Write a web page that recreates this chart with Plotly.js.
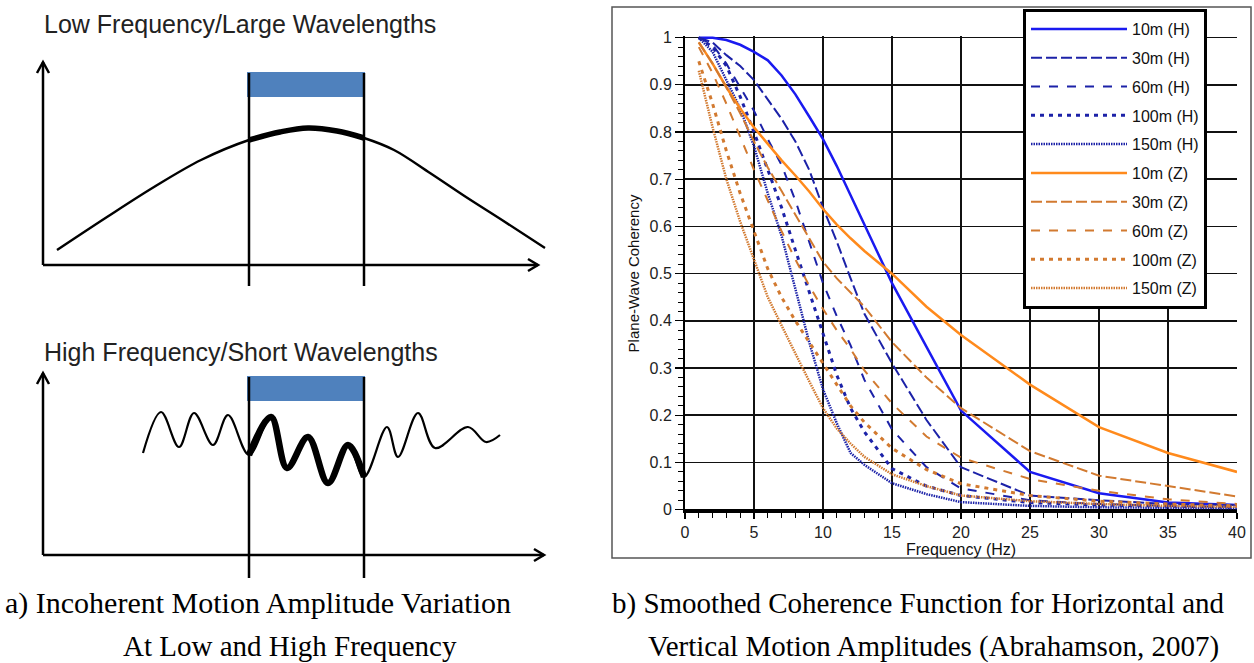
<!DOCTYPE html>
<html>
<head>
<meta charset="utf-8">
<script src="https://cdn.plot.ly/plotly-3.0.1.min.js"></script>
<style>html,body{margin:0;padding:0;background:#fff;}#chart{width:1254px;height:663px;}</style>
</head>
<body>
<div id="chart"></div>
<script>
// ---------- Data: coherence chart (b) ----------
const freq = [1,2,3,4,5,6,7,8,9,10,11,12,13,15,17.5,20,25,30,35,40];
const seriesNames = ["10m (H)","30m (H)","60m (H)","100m (H)","150m (H)","10m (Z)","30m (Z)","60m (Z)","100m (Z)","150m (Z)"];
const h10  = [1.0,1.0,0.995,0.985,0.97,0.952,0.92,0.88,0.833,0.785,0.728,0.666,0.604,0.48,0.345,0.21,0.08,0.035,0.015,0.01];
const h30  = [1.0,0.99,0.963,0.94,0.91,0.868,0.828,0.78,0.72,0.64,0.568,0.49,0.415,0.31,0.19,0.09,0.03,0.02,0.012,0.01];
const h60  = [1.0,0.985,0.945,0.895,0.845,0.785,0.73,0.655,0.565,0.48,0.41,0.348,0.275,0.17,0.09,0.045,0.02,0.012,0.008,0.006];
const h100 = [1.0,0.98,0.94,0.875,0.80,0.72,0.64,0.55,0.46,0.375,0.285,0.215,0.165,0.087,0.05,0.03,0.015,0.01,0.008,0.005];
const h150 = [1.0,0.97,0.91,0.85,0.77,0.67,0.58,0.47,0.355,0.255,0.183,0.12,0.095,0.056,0.033,0.016,0.008,0.005,0.004,0.003];
const z10  = [0.99,0.945,0.895,0.85,0.81,0.775,0.74,0.708,0.674,0.637,0.604,0.575,0.548,0.50,0.43,0.37,0.265,0.175,0.12,0.08];
const z30  = [0.99,0.945,0.895,0.84,0.78,0.725,0.675,0.625,0.575,0.525,0.49,0.46,0.43,0.355,0.28,0.215,0.124,0.072,0.05,0.028];
const z60  = [0.98,0.925,0.86,0.79,0.72,0.655,0.59,0.53,0.475,0.425,0.38,0.34,0.295,0.225,0.155,0.11,0.065,0.04,0.022,0.012];
const z100 = [0.95,0.86,0.76,0.67,0.59,0.51,0.45,0.40,0.355,0.31,0.265,0.22,0.185,0.13,0.085,0.055,0.03,0.018,0.012,0.008];
const z150 = [0.93,0.81,0.70,0.61,0.53,0.45,0.39,0.33,0.272,0.215,0.172,0.14,0.112,0.075,0.05,0.03,0.018,0.012,0.008,0.006];
const xTickVals = [0,5,10,15,20,25,30,35,40];
const yTickVals = [0,0.1,0.2,0.3,0.4,0.5,0.6,0.7,0.8,0.9,1];

// ---------- Data: schematic (a), in picture pixel units ----------
const lowWaveX  = [57,107,154,201,249,280,308,337,364,394,430,466,502,545];
const lowWaveY  = [250,217,187,160,140,132,128,131,138,150,173,197,220,248];
const highWaveX = [143,161,179,194,213,228,249,271,287,308,328,348,364,387,398,418,435,468,486,500];
const highWaveY = [453,412,447,413,445,415,455,417,468,437,483,445,477,427,457,413,448,427,442,435];

// ---------- Styles ----------
const W = 1254, H = 663;
const blueSolid = '#1a1af0', blueDash = '#1c22a8', orangeSolid = '#ff8a1c', orangeDash = '#d27a30';
const styles = [
  {color: blueSolid, dash: 'solid', width: 2.5},
  {color: blueDash, dash: '11px,4px', width: 2},
  {color: blueDash, dash: '9px,9px', width: 2},
  {color: blueDash, dash: '4px,5px', width: 3},
  {color: blueDash, dash: '1.5px,1px', width: 2.5},
  {color: orangeSolid, dash: 'solid', width: 2.5},
  {color: orangeDash, dash: '11px,4px', width: 2},
  {color: orangeDash, dash: '9px,9px', width: 2},
  {color: orangeDash, dash: '4px,5px', width: 3},
  {color: orangeDash, dash: '1.5px,1px', width: 2.5}
];
const seriesVals = [h10,h30,h60,h100,h150,z10,z30,z60,z100,z150];

const traces = seriesVals.map((v, i) => ({
  type: 'scatter', mode: 'lines', x: freq, y: v, name: seriesNames[i],
  legendgroup: 'g' + i, xaxis: 'x', yaxis: 'y',
  line: {color: styles[i].color, dash: styles[i].dash, width: styles[i].width}
}));

const bandL = 249, bandR = 364;
function band(xs, ys) {
  const bx = [], by = [];
  xs.forEach((x, i) => { if (x >= bandL && x <= bandR) { bx.push(x); by.push(ys[i]); } });
  return [bx, by];
}
const lowBand = band(lowWaveX, lowWaveY);
const highBand = band(highWaveX, highWaveY);
const schem = (x, y, w) => ({type: 'scatter', mode: 'lines', x: x, y: y, xaxis: 'x2', yaxis: 'y2',
  showlegend: false, hoverinfo: 'skip', line: {color: '#000', width: w, shape: 'spline', smoothing: 1}});
traces.push(schem(lowWaveX, lowWaveY, 2.4));
traces.push(schem(lowBand[0], lowBand[1], 5.5));
traces.push(schem(highWaveX, highWaveY, 2.2));
traces.push(schem(highBand[0], highBand[1], 6.5));

// ---------- Shapes for schematic ----------
const sx = (o) => Object.assign({xref: 'x2', yref: 'y2'}, o);
const blk = {color: '#000', width: 2.5};
const shapes = [
  // top panel
  sx({type: 'rect', x0: 247, x1: 365, y0: 72, y1: 97, fillcolor: '#4f81bd', line: {width: 0}}),
  sx({type: 'path', path: 'M43,265 L43,62', line: blk}),
  sx({type: 'path', path: 'M37,73 L43,62 L49,73', line: blk}),
  sx({type: 'path', path: 'M43,265 L538,265', line: blk}),
  sx({type: 'path', path: 'M528,259 L538,265 L528,271', line: blk}),
  sx({type: 'line', x0: 249, x1: 249, y0: 73, y1: 286, line: blk}),
  sx({type: 'line', x0: 364, x1: 364, y0: 73, y1: 286, line: blk}),
  // bottom panel
  sx({type: 'rect', x0: 247, x1: 365, y0: 376, y1: 401, fillcolor: '#4f81bd', line: {width: 0}}),
  sx({type: 'path', path: 'M43,555 L43,373', line: blk}),
  sx({type: 'path', path: 'M37,384 L43,373 L49,384', line: blk}),
  sx({type: 'path', path: 'M43,555 L544,555', line: blk}),
  sx({type: 'path', path: 'M534,549 L544,555 L534,561', line: blk}),
  sx({type: 'line', x0: 249, x1: 249, y0: 377, y1: 578, line: blk}),
  sx({type: 'line', x0: 364, x1: 364, y0: 377, y1: 578, line: blk}),
  // frame of chart (b)
  {type: 'rect', xref: 'paper', yref: 'paper', x0: 612/W, x1: 1251/W, y0: (H-558)/H, y1: (H-7)/H,
   line: {color: '#555', width: 1.5}, fillcolor: 'rgba(0,0,0,0)', layer: 'below'}
];

const sans = 'Liberation Sans, Arial, sans-serif';
const serif = 'Liberation Serif, Times New Roman, serif';
const annotations = [
  {text: 'Low Frequency/Large Wavelengths', xref: 'paper', yref: 'paper', x: 42/W, y: (H-24)/H,
   xanchor: 'left', yanchor: 'middle', showarrow: false, font: {family: sans, size: 25, color: '#222'}},
  {text: 'High Frequency/Short Wavelengths', xref: 'paper', yref: 'paper', x: 42/W, y: (H-352)/H,
   xanchor: 'left', yanchor: 'middle', showarrow: false, font: {family: sans, size: 25, color: '#222'}},
  {text: 'a) Incoherent Motion Amplitude Variation', xref: 'paper', yref: 'paper', x: 3/W, y: (H-603)/H,
   xanchor: 'left', yanchor: 'middle', showarrow: false, font: {family: serif, size: 30, color: '#000'}},
  {text: 'At Low and High Frequency', xref: 'paper', yref: 'paper', x: 121/W, y: (H-646)/H,
   xanchor: 'left', yanchor: 'middle', showarrow: false, font: {family: serif, size: 29, color: '#000'}},
  {text: 'b) Smoothed Coherence Function for Horizontal and', xref: 'paper', yref: 'paper', x: 610/W, y: (H-603)/H,
   xanchor: 'left', yanchor: 'middle', showarrow: false, font: {family: serif, size: 29, color: '#000'}},
  {text: 'Vertical Motion Amplitudes (Abrahamson, 2007)', xref: 'paper', yref: 'paper', x: 646/W, y: (H-646)/H,
   xanchor: 'left', yanchor: 'middle', showarrow: false, font: {family: serif, size: 29, color: '#000'}}
];

const layout = {
  width: W, height: H, autosize: false,
  margin: {l: 0, r: 0, t: 0, b: 0, pad: 0},
  paper_bgcolor: '#fff', plot_bgcolor: 'rgba(0,0,0,0)',
  showlegend: true,
  xaxis: {
    domain: [685/W, 1237/W], range: [0, 40], tickvals: xTickVals, ticktext: xTickVals.map(String),
    showgrid: true, gridcolor: '#111', gridwidth: 1.6, zeroline: false,
    showline: true, linecolor: '#000', linewidth: 2,
    ticks: 'outside', ticklen: 6, tickwidth: 1.2, tickcolor: '#000',
    minor: {dtick: 1, ticks: 'outside', ticklen: 5, tickwidth: 1, tickcolor: '#000', showgrid: false},
    tickfont: {family: sans, size: 16, color: '#222'},
    title: {text: 'Frequency (Hz)', font: {family: sans, size: 16, color: '#111'}, standoff: 2},
    fixedrange: true
  },
  yaxis: {
    domain: [(H-511.1)/H, (H-35.8)/H], range: [-0.003, 1.004], tickvals: yTickVals,
    showgrid: true, gridcolor: '#111', gridwidth: 1.6, zeroline: true, zerolinecolor: '#000', zerolinewidth: 2,
    showline: true, linecolor: '#000', linewidth: 2,
    ticks: 'outside', ticklen: 8, tickwidth: 1.2, tickcolor: '#000',
    minor: {dtick: 0.02, ticks: 'outside', ticklen: 5, tickwidth: 1, tickcolor: '#000', showgrid: false},
    tickfont: {family: sans, size: 16, color: '#222'},
    title: {text: 'Plane-Wave Coherency', font: {family: sans, size: 15, color: '#111'}, standoff: 6},
    fixedrange: true
  },
  xaxis2: {domain: [0, 560/W], range: [0, 560], visible: false, fixedrange: true, anchor: 'y2'},
  yaxis2: {domain: [0, 1], range: [H, 0], visible: false, fixedrange: true, anchor: 'x2'},
  legend: {
    x: 1023/W, y: (H-9)/H, xanchor: 'left', yanchor: 'top',
    bgcolor: '#fff', bordercolor: '#000', borderwidth: 3,
    font: {family: sans, size: 16, color: '#111'},
    tracegroupgap: 5, itemwidth: 96
  },
  shapes: shapes,
  annotations: annotations
};

Plotly.newPlot('chart', traces, layout, {displayModeBar: false, staticPlot: true});
</script>
</body>
</html>
